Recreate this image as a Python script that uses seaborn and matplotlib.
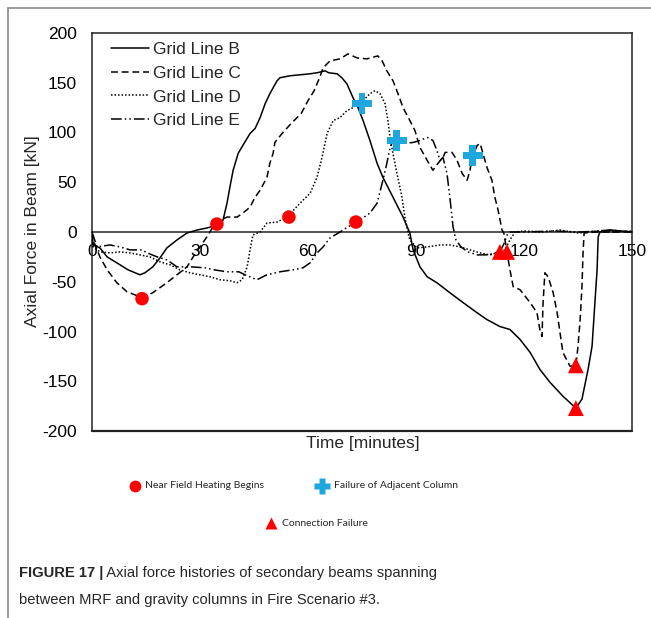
import matplotlib
matplotlib.use("Agg")
import matplotlib.pyplot as plt
import seaborn as sns
from matplotlib.lines import Line2D
from matplotlib.ticker import MultipleLocator
from matplotlib import font_manager

# ---------------------------------------------------------------------------
# Axial force histories, Fire Scenario #3 (time in minutes, force in kN)
# ---------------------------------------------------------------------------
b_time = [0, 0.3, 2.2, 4.2, 6.9, 10.0, 13.3, 14.7, 16.9, 18.9, 20.8, 23.6, 26.4,
          29.2, 31.9, 34.7, 36.1, 36.4, 37.5, 38.3, 39.2, 40.6, 41.9, 43.9, 45.3,
          46.7, 48.1, 49.4, 51.4, 52.2, 55.0, 60.6, 62.5, 64.7, 65.8, 68.1, 69.4,
          70.8, 72.5, 73.9, 75.3, 77.2, 79.2, 80.8, 83.6, 86.4, 88.3, 89.2, 91.1,
          93.1, 95.8, 99.4, 103.1, 106.9, 109.7, 113.3, 116.1, 118.9, 121.7,
          124.4, 127.2, 130.8, 134.4, 136.1, 137.8, 138.9, 139.7, 140.3, 140.6,
          141.1, 144.0, 147.0, 150.0]
b_force = [0, -13, -16, -25, -31, -38, -43, -41, -35, -26, -16, -8, -1,
           2, 4, 7, 10, 12, 29, 45, 62, 79, 87, 99, 104,
           115, 129, 139, 152, 155, 157, 159, 160, 162, 160, 159, 155,
           149, 135, 125, 112, 92, 69, 55, 35, 15, -1, -18, -35,
           -45, -51, -61, -71, -81, -88, -95, -98, -108, -121,
           -138, -151, -165, -177, -168, -138, -115, -71, -38, -5,
           0, 2, 1, 0]

c_time = [0, 0.3, 2.2, 4.2, 6.9, 9.7, 13.9, 16.9, 20.8, 23.6, 26.4, 28.1, 30.0,
          31.9, 33.6, 35.6, 37.5, 40.3, 41.9, 43.9, 45.3, 46.7, 48.6, 49.4, 50.3,
          50.8, 52.8, 55.3, 58.1, 60.0, 61.7, 63.1, 64.2, 66.1, 68.9, 71.1, 73.6,
          76.4, 79.4, 80.6, 81.9, 83.6, 85.0, 86.4, 88.3, 89.7, 91.1, 93.1, 94.7,
          96.1, 97.5, 98.1, 100.0, 101.4, 102.8, 104.2, 105.0, 105.6, 107.0,
          107.8, 108.6, 109.7, 111.1, 111.9, 112.8, 113.9, 114.4, 115.3, 116.1,
          117.0, 118.9, 121.7, 123.6, 124.4, 125.0, 125.3, 125.8, 126.7, 128.1,
          129.2, 130.0, 130.8, 132.8, 134.4, 135.0, 135.6, 136.1, 136.4, 136.7,
          140.0, 150.0]
c_force = [0, -8, -25, -38, -51, -60, -66, -61, -51, -43, -35, -25, -15,
           -5, 5, 12, 15, 15, 19, 25, 35, 42, 55, 69, 79,
           90, 99, 109, 119, 132, 142, 154, 165, 172, 174, 179, 175,
           174, 177, 172, 162, 152, 139, 125, 112, 102, 85, 72, 62,
           69, 75, 80, 80, 72, 59, 52, 62, 75, 87,
           89, 79, 65, 52, 35, 22, 2, -1, -21, -38,
           -55, -58, -71, -81, -98, -105, -71, -41, -45, -61,
           -81, -101, -121, -135, -134, -115, -88, -55, -21, -1,
           0, 0]

d_time = [0, 0.3, 2.2, 5.0, 7.8, 10.6, 13.3, 16.1, 18.9, 21.7, 24.4, 27.2, 30.0,
          32.8, 35.6, 38.3, 40.3, 41.7, 43.1, 43.9, 44.7, 46.7, 48.6, 51.4, 54.2,
          57.8, 60.6, 62.5, 63.9, 65.3, 67.0, 68.9, 70.8, 72.5, 75.3, 77.2, 78.6,
          80.0, 81.4, 82.2, 82.8, 83.6, 84.7, 86.1, 86.9, 87.8, 88.3, 90.3, 93.1,
          96.7, 99.4, 102.2, 105.0, 107.8, 110.6, 113.3, 114.7, 116.1, 117.5,
          120.0, 125.0, 130.0, 135.0, 140.0, 145.0, 150.0]
d_force = [0, -15, -20, -21, -20, -21, -23, -25, -30, -33, -38, -41, -43,
           -45, -48, -49, -51, -48, -35, -18, -3, 0, 9, 10, 15,
           29, 39, 55, 75, 99, 112, 115, 122, 125, 132, 139, 142,
           139, 129, 112, 95, 79, 59, 35, 15, -1, -8, -16, -15,
           -13, -13, -15, -18, -21, -23, -20, -18, -8, 0,
           1, 0, 2, -1, 1, 0, 1]

e_time = [0, 1.4, 5.0, 7.8, 10.6, 13.9, 15.3, 18.1, 20.8, 23.6, 27.5, 31.4, 33.9,
          37.5, 40.8, 42.5, 45.8, 48.6, 52.2, 55.8, 58.6, 60.6, 62.5, 64.2, 66.1,
          68.9, 71.0, 73.3, 77.2, 79.2, 80.8, 81.9, 82.8, 83.6, 86.4, 89.2, 91.1,
          93.1, 94.7, 95.8, 96.7, 97.5, 98.6, 99.4, 100.3, 101.1, 102.5, 104.4,
          107.0, 110.0, 113.3, 114.4, 115.3, 116.0, 120.0, 128.0, 136.0, 144.0,
          150.0]
e_force = [0, -15, -13, -15, -18, -18, -21, -25, -28, -35, -35, -36, -38,
           -40, -40, -43, -48, -43, -40, -38, -36, -31, -21, -15, -6,
           0, 5, 9, 19, 29, 52, 69, 85, 92, 89, 90, 92,
           95, 92, 82, 72, 75, 59, 35, 5, -8, -15, -20,
           -23, -23, -20, -12, -3, 0, 0, 1, 0, 2,
           0]

series_names = ["Grid Line B", "Grid Line C", "Grid Line D", "Grid Line E"]
series_time = [b_time, c_time, d_time, e_time]
series_force = [b_force, c_force, d_force, e_force]

# Event markers
heat_time = [13.9, 34.7, 54.7, 73.3]
heat_force = [-67, 8, 15, 10]
column_time = [75.0, 84.7, 105.8]
column_force = [129, 92, 77]
conn_time = [113.3, 115.3, 134.4, 134.4]
conn_force = [-20, -20, -134, -177]

event_labels = ["Near Field Heating Begins", "Failure of Adjacent Column",
                "Connection Failure"]

x_ticks = [0, 30, 60, 90, 120, 150]
y_ticks = [-200, -150, -100, -50, 0, 50, 100, 150, 200]

caption_bold = "FIGURE 17 |"
caption_line1 = "Axial force histories of secondary beams spanning"
caption_line2 = "between MRF and gravity columns in Fire Scenario #3."

# ---------------------------------------------------------------------------
sns.set_style("white")
plt.rcParams["font.family"] = ["Liberation Sans", "DejaVu Sans"]
plt.rcParams["axes.unicode_minus"] = False

W, H = 651, 618
fig = plt.figure(figsize=(W / 100, H / 100), dpi=100)


def fx(x):
    return x / W


def fy(y):
    return 1 - y / H


ax = fig.add_axes([fx(92), fy(431), (632 - 92) / W, (431 - 33) / H])

line_styles = ["-", (0, (4.5, 2.5)), (0, (1, 1.3)), (0, (7, 2, 1, 2, 1, 2))]
for name, t, f, ls in zip(series_names, series_time, series_force, line_styles):
    sns.lineplot(x=t, y=f, ax=ax, color="black", lw=1.1, linestyle=ls,
                 label=name, sort=False, estimator=None, zorder=3)

sns.scatterplot(x=heat_time, y=heat_force, ax=ax, marker="o", s=95,
                color="#ff0000", edgecolor="none", zorder=5, legend=False)
sns.scatterplot(x=column_time, y=column_force, ax=ax, marker="P", s=220,
                color="#1ea6de", edgecolor="none", zorder=5, legend=False)
sns.scatterplot(x=conn_time, y=conn_force, ax=ax, marker="^", s=130,
                color="#ff0000", edgecolor="none", zorder=5, legend=False)

ax.set_xlim(0, 150)
ax.set_ylim(-200, 200)
ax.set_xticks(x_ticks)
ax.set_yticks(y_ticks)
ax.xaxis.set_minor_locator(MultipleLocator(5))
ax.yaxis.set_minor_locator(MultipleLocator(10))

# time axis runs along the zero-force line; box closed below
ax.spines["bottom"].set_position(("data", 0))
for side in ["left", "right", "top", "bottom"]:
    ax.spines[side].set_color("#222222")
    ax.spines[side].set_linewidth(1.1)
ax.axhline(-200, color="#222222", lw=1.6, clip_on=False, zorder=4)

ax.tick_params(axis="both", which="both", direction="in", colors="#222222",
               labelcolor="black", labelsize=12.5, width=0.9)
ax.tick_params(axis="y", which="major", length=5, pad=11)
ax.tick_params(axis="y", which="minor", length=3)
ax.tick_params(axis="x", which="major", length=4, pad=9)
ax.tick_params(axis="x", which="minor", length=4)
ax.tick_params(right=False, top=False, which="both")

ax.set_xlabel("Time [minutes]", fontsize=12.5)
ax.xaxis.set_label_coords(0.502, -0.012)
ax.set_ylabel("Axial Force in Beam [kN]", fontsize=12.5)
ax.yaxis.set_label_coords(-0.097, 0.501)

handles, labels = ax.get_legend_handles_labels()
ax.legend(handles[:4], labels[:4], loc="upper left",
          bbox_to_anchor=(0.035, 0.978), frameon=False, fontsize=12.5,
          handlelength=2.2, handletextpad=0.2, labelspacing=0.5,
          borderaxespad=0, borderpad=0)

# event key under the axes
key_font = ["Lato", "DejaVu Sans"]
fig.add_artist(Line2D([fx(135)], [fy(486)], marker="o", ms=8.5,
                      color="#ff0000", mec="none", transform=fig.transFigure))
fig.add_artist(Line2D([fx(322)], [fy(486)], marker="P", ms=11,
                      color="#1ea6de", mec="none", transform=fig.transFigure))
fig.add_artist(Line2D([fx(271)], [fy(523)], marker="^", ms=9,
                      color="#ff0000", mec="none", transform=fig.transFigure))
k1 = fig.text(fx(145), fy(486), event_labels[0], family=key_font, fontsize=8.5,
              va="center", ha="left")
k2 = fig.text(fx(334), fy(486), event_labels[1], family=key_font, fontsize=8.5,
              va="center", ha="left")
k3 = fig.text(fx(282), fy(523), event_labels[2], family=key_font, fontsize=8.5,
              va="center", ha="left")

# caption
available = {f.name for f in font_manager.fontManager.ttflist}
cap_family = ["Liberation Sans Narrow"] if "Liberation Sans Narrow" in available \
    else ["Liberation Sans"]
cap_family = cap_family + ["DejaVu Sans"]
c0 = fig.text(fx(19), fy(573), caption_bold, family=cap_family, fontsize=11,
              weight="bold", va="center", ha="left")
c1 = fig.text(fx(19), fy(573), " " + caption_line1, family=cap_family,
              fontsize=11, va="center", ha="left")
c2 = fig.text(fx(19), fy(600), caption_line2, family=cap_family, fontsize=11,
              va="center", ha="left")

# panel frame
fig.add_artist(Line2D([fx(8), 1], [fy(8), fy(8)], color="#8a8a8a", lw=1.2,
                      transform=fig.transFigure))
fig.add_artist(Line2D([fx(8), fx(8)], [fy(8), 0], color="#8a8a8a", lw=1.2,
                      transform=fig.transFigure))

# size text blocks to their set widths
fig.canvas.draw()
rend = fig.canvas.get_renderer()


def width(t):
    return t.get_window_extent(rend).width


scale = 120 / width(k1)
for k in (k1, k2, k3):
    k.set_fontsize(k.get_fontsize() * scale)

scale = (433 - 19) / (width(c0) + width(c1))
for c in (c0, c1, c2):
    c.set_fontsize(c.get_fontsize() * scale)
fig.canvas.draw()
c1.set_x(fx(19 + width(c0)))

fig.savefig("out.png", dpi=100)
